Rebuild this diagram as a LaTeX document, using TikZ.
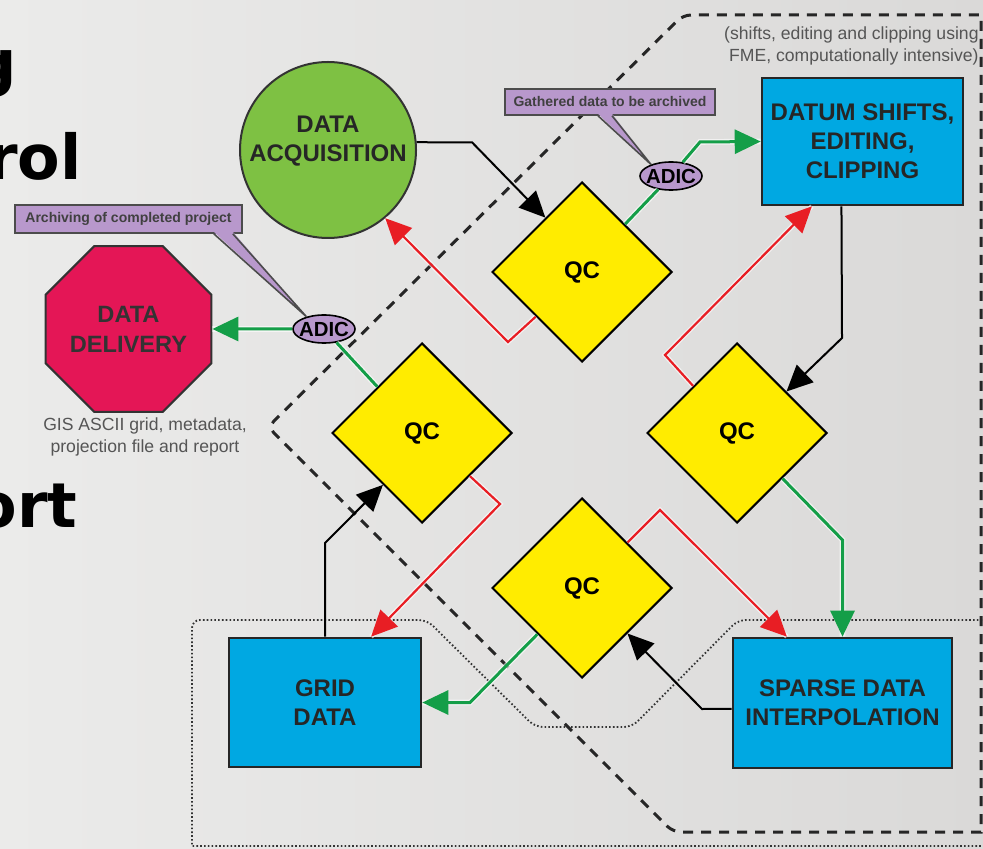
\documentclass[tikz,border=0pt]{standalone}
\usepackage{fontspec}
\setmainfont{Liberation Sans}
\newfontfamily\titlefont{DejaVu Sans}
\usetikzlibrary{positioning,calc,shapes.geometric,arrows.meta}
\definecolor{bgleft}{RGB}{235,235,234}
\definecolor{bgright}{RGB}{218,217,216}
\definecolor{acqgreen}{RGB}{126,193,67}
\definecolor{delred}{RGB}{228,22,86}
\definecolor{qcyellow}{RGB}{255,236,0}
\definecolor{procblue}{RGB}{0,168,226}
\definecolor{adiclilac}{RGB}{184,152,204}
\definecolor{okgreen}{RGB}{20,158,72}
\definecolor{failred}{RGB}{232,30,36}
\definecolor{notegray}{RGB}{85,85,85}
\tikzset{
  qcnode/.style={diamond,aspect=1,draw,line width=1pt,fill=qcyellow,inner sep=0pt,minimum size=90pt,font=\bfseries\fontsize{12}{14}\selectfont},
  procbox/.style={rectangle,draw=black!85,line width=1.3pt,fill=procblue,align=center,text=black!85,font=\bfseries\fontsize{12}{14.5}\selectfont},
  acqnode/.style={circle,draw=black!80,line width=1pt,fill=acqgreen,inner sep=0pt,minimum size=88pt,align=center,text=black!85,text depth=11pt,font=\bfseries\fontsize{12}{14.5}\selectfont},
  delnode/.style={regular polygon,regular polygon sides=8,draw=black!80,line width=1pt,fill=delred,inner sep=0pt,minimum size=88pt,align=center,text=black!80,font=\bfseries\fontsize{11.8}{15}\selectfont},
  adicnode/.style={ellipse,draw,line width=0.8pt,fill=adiclilac,inner xsep=-1.5pt,inner ysep=0pt,minimum width=31pt,minimum height=14pt,font=\bfseries\fontsize{10.2}{12}\selectfont},
  notebox/.style={rectangle,draw=black!70,line width=0.8pt,fill=adiclilac,inner sep=0pt,text=black!75,font=\bfseries\fontsize{7}{8}\selectfont},
  notetext/.style={align=center,text=notegray,inner sep=0pt,font=\fontsize{8.8}{11}\selectfont},
  titletext/.style={inner sep=0pt,anchor=base east,font=\titlefont\bfseries\fontsize{31}{36}\selectfont},
  flowline/.style={draw=black,line width=1pt,-{Triangle[length=13pt,width=12pt]}},
  okline/.style={draw=okgreen,line width=1.5pt,preaction={draw=white,opacity=0.6,line width=2.8pt,arrows=-}},
  okarrow/.style={okline,-{Triangle[length=13pt,width=12pt]}},
  failline/.style={draw=failred,line width=1.1pt,preaction={draw=white,opacity=0.6,line width=2.4pt,arrows=-},-{Triangle[length=13pt,width=12pt]}},
  stagebound/.style={draw=black!85,line width=1.5pt,dash pattern=on 5pt off 4pt},
  groupbound/.style={draw=black!80,line width=0.9pt,dash pattern=on 0.8pt off 1.1pt,rounded corners=4pt}
}
\begin{document}
\begin{tikzpicture}[x=0.5pt,y=-0.5pt]
\useasboundingbox (0,0) rectangle (983,849);
\shade[left color=bgleft,right color=bgright] (0,0) rectangle (983,849);
\draw[groupbound] (986,620) -- (738,620) -- (632,727) -- (535,727) -- (427,620) -- (192,620) [sharp corners] -- (192,846) -- (986,846);
\draw[stagebound] (981,400) -- (981,832) [rounded corners=4pt] -- (673,832) -- (268,427) -- (683,15) [sharp corners] -- (981,15) -- cycle;

\node[titletext] (ttlg) at (17,85) {g};
\node[titletext] (ttlrol) at (82,180) {rol};
\node[titletext] (ttlort) at (78,527) {ort};

\node[acqnode] (da) at (328,150) {DATA\\ACQUISITION};
\node[delnode] (dd) at (128.5,329) {DATA\\DELIVERY};
\node[notetext] (gisnote) at (145,437) {GIS ASCII grid, metadata,\\projection file and report};
\node[notetext,align=right,anchor=east] (fmenote) at (979,46) {(shifts, editing and clipping using\\FME, computationally intensive)};

\node[procbox,minimum width=100.5pt,minimum height=63.5pt] (dat) at (862.5,141.5) {DATUM SHIFTS,\\EDITING,\\CLIPPING};
\node[procbox,minimum width=96pt,minimum height=64.5pt] (gd) at (325,702.5) {GRID\\DATA};
\node[procbox,minimum width=109.5pt,minimum height=65pt] (sp) at (842.5,703) {SPARSE DATA\\INTERPOLATION};

\node[qcnode] (qct) at (582,272) {QC};
\node[qcnode] (qcl) at (422,433) {QC};
\node[qcnode] (qcr) at (737,433) {QC};
\node[qcnode] (qcb) at (582,588) {QC};

\node[adicnode] (adt) at (671,176) {ADIC};
\node[adicnode] (adl) at (324,329) {ADIC};

\node[notebox,minimum width=105pt,minimum height=13pt] (gath) at (610,102) {Gathered data to be archived};
\node[notebox,minimum width=113.5pt,minimum height=14pt] (arch) at (128.5,219) {Archiving of completed project};
\fill[adiclilac] ($(gath.south)+(-12,-2)$) -- (adt.150) -- ($(gath.south)+(2,-2)$) -- cycle;
\draw[black!70,line width=0.8pt] ($(gath.south)+(-12,0)$) -- (adt.150) -- ($(gath.south)+(2,0)$);
\fill[adiclilac] ($(arch.south east)+(-29,-2)$) -- (adl.145) -- ($(arch.south east)+(-10,-2)$) -- cycle;
\draw[black!70,line width=0.8pt] ($(arch.south east)+(-29,0)$) -- (adl.145) -- ($(arch.south east)+(-10,0)$);

\draw[flowline] (da.5) -- (472,142.3) -- (qct.124);
\draw[okline] (qct.48) -- (adt);
\draw[okarrow] (adt) -- (700,142) -- (dat.west);
\draw[failline] (qct.224) -- (508,342) -- (da.-50);
\draw[okline] (qcl.134) -- (adl);
\draw[okarrow] (adl.west) -- (dd.east);
\draw[failline] (qcl.-42) -- (500,504) -- (gd.55);
\draw[flowline] (gd.north) -- (325,543) -- (qcl.233);
\draw[flowline] (dat.-108) -- (842,338) -- (qcr.40);
\draw[failline] (qcr.133) -- (665,355) -- (dat.-128);
\draw[okarrow] (qcr.-45) -- (842.5,540) -- (sp.north);
\draw[failline] (qcb.45) -- (660,510) -- (sp.130);
\draw[okarrow] (qcb.226) -- (470,702.5) -- (gd.east);
\draw[flowline] (sp.183) -- (702,709) -- (qcb.-45);
\end{tikzpicture}
\end{document}
